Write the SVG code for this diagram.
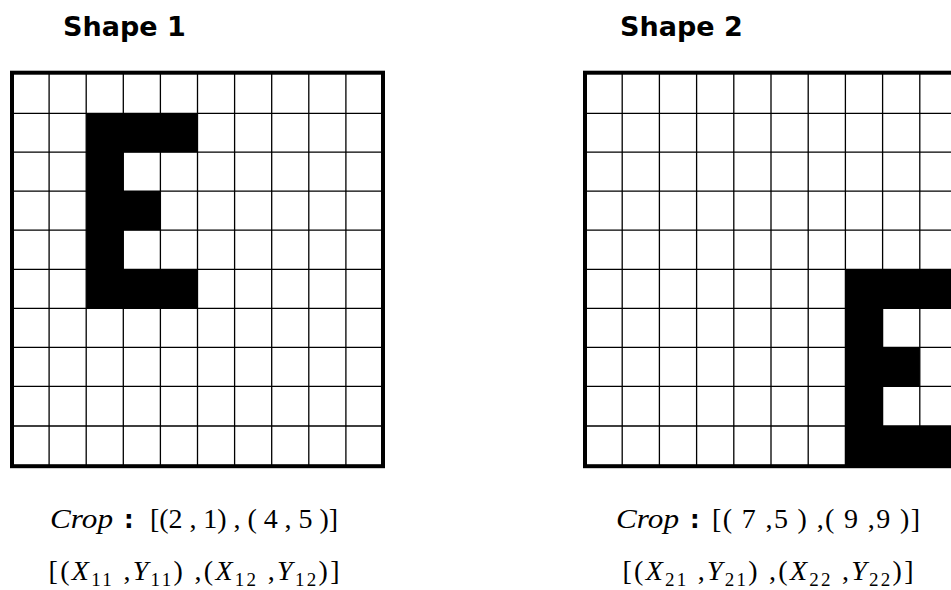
<svg xmlns="http://www.w3.org/2000/svg" width="951" height="590" viewBox="0 0 951 590">
<style>
.title{font-family:"DejaVu Sans","Liberation Sans",sans-serif;font-weight:bold;font-size:27px;fill:#000}
.math{font-family:"Liberation Serif","DejaVu Serif",serif;font-size:28px;fill:#000}
.it{font-style:italic}
.sub{font-size:19px}
.colon{font-family:"DejaVu Sans","Liberation Sans",sans-serif;font-weight:bold;font-size:24px;fill:#000}
.grid{stroke:#000;stroke-width:1.3;fill:none}
.border{stroke:#000;stroke-width:4;fill:none}
.fill{fill:#000}
</style>
<rect width="951" height="590" fill="#fff"/>
<g id="shape1">
  <text class="title" x="63" y="36">Shape 1</text>
  <path class="fill" d="M86.2,113.3 H197.5 V152.2 H123.3 V191.1 H160.4 V230.2 H123.3 V269.3 H197.5 V308.3 H86.2 Z"/>
  <path class="grid" d="M49.1,72.7V466.2 M86.2,72.7V466.2 M123.3,72.7V466.2 M160.4,72.7V466.2 M197.5,72.7V466.2 M234.6,72.7V466.2 M271.7,72.7V466.2 M308.8,72.7V466.2 M345.9,72.7V466.2 M12,113.3H383 M12,152.2H383 M12,191.1H383 M12,230.2H383 M12,269.3H383 M12,308.3H383 M12,347.3H383 M12,386.4H383 M12,426H383"/>
  <rect class="border" x="12" y="72.7" width="371" height="393.5"/>
  <text class="math it" x="50" y="528" textLength="63" lengthAdjust="spacingAndGlyphs">Crop</text>
  <text class="colon" x="124" y="528">:</text>
  <text class="math" x="150" y="528" textLength="188" lengthAdjust="spacing">[(2 , 1) , ( 4 , 5 )]</text>
  <text class="math" x="194" y="580" text-anchor="middle" textLength="291" lengthAdjust="spacing">[(<tspan class="it">X</tspan><tspan class="sub" dy="6">11</tspan><tspan dy="-6"> ,</tspan><tspan class="it">Y</tspan><tspan class="sub" dy="6">11</tspan><tspan dy="-6">) ,(</tspan><tspan class="it">X</tspan><tspan class="sub" dy="6">12</tspan><tspan dy="-6"> ,</tspan><tspan class="it">Y</tspan><tspan class="sub" dy="6">12</tspan><tspan dy="-6">)]</tspan></text>
</g>
<g id="shape2">
  <text class="title" x="620" y="36">Shape 2</text>
  <path class="fill" d="M845.4,269.3 H957 V308.3 H882.6 V347.3 H919.8 V386.4 H882.6 V426 H957 V466.2 H845.4 Z"/>
  <path class="grid" d="M622.2,72.7V466.2 M659.4,72.7V466.2 M696.6,72.7V466.2 M733.8,72.7V466.2 M771,72.7V466.2 M808.2,72.7V466.2 M845.4,72.7V466.2 M882.6,72.7V466.2 M919.8,72.7V466.2 M585,113.3H957 M585,152.2H957 M585,191.1H957 M585,230.2H957 M585,269.3H957 M585,308.3H957 M585,347.3H957 M585,386.4H957 M585,426H957"/>
  <rect class="border" x="585" y="72.7" width="372" height="393.5"/>
  <text class="math it" x="616" y="528" textLength="63" lengthAdjust="spacingAndGlyphs">Crop</text>
  <text class="colon" x="690" y="528">:</text>
  <text class="math" x="712" y="528" textLength="208" lengthAdjust="spacing">[( 7 ,5 ) ,( 9 ,9 )]</text>
  <text class="math" x="768" y="580" text-anchor="middle" textLength="291" lengthAdjust="spacing">[(<tspan class="it">X</tspan><tspan class="sub" dy="6">21</tspan><tspan dy="-6"> ,</tspan><tspan class="it">Y</tspan><tspan class="sub" dy="6">21</tspan><tspan dy="-6">) ,(</tspan><tspan class="it">X</tspan><tspan class="sub" dy="6">22</tspan><tspan dy="-6"> ,</tspan><tspan class="it">Y</tspan><tspan class="sub" dy="6">22</tspan><tspan dy="-6">)]</tspan></text>
</g>
</svg>
